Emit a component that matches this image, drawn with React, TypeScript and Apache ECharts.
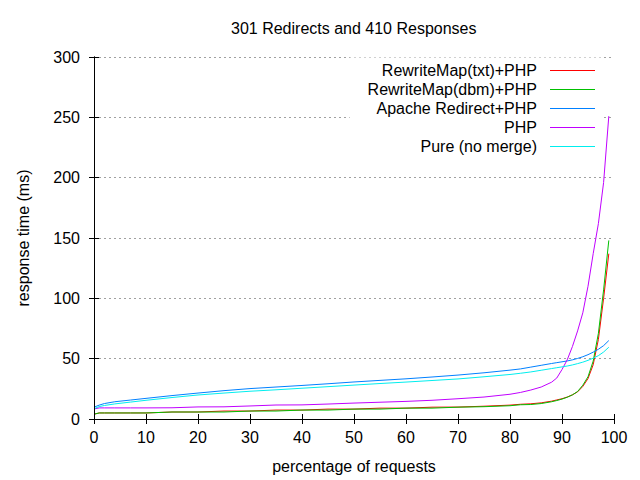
import React, { useEffect, useRef } from "react";
import * as echarts from "echarts";

const TITLE = "301 Redirects and 410 Responses";
const X_NAME = "percentage of requests";
const Y_NAME = "response time (ms)";

const X_TICKS_MIN = 0;
const X_TICKS_MAX = 100;
const X_TICK_STEP = 10;
const Y_TICKS_MIN = 0;
const Y_TICKS_MAX = 300;
const Y_TICK_STEP = 50;

const SERIES_NAMES = [
  "RewriteMap(txt)+PHP",
  "RewriteMap(dbm)+PHP",
  "Apache Redirect+PHP",
  "PHP",
  "Pure (no merge)",
];
const SERIES_COLORS = ["#ff0000", "#00c000", "#0080ff", "#c000ff", "#00eeee"];

const PERCENTILES = [
  0, 1, 2, 4, 7, 10, 15, 20, 25, 30, 35, 40, 45, 50, 55, 60, 65, 70, 75, 80,
  82, 84, 86, 88, 89, 90, 91, 92, 93, 94, 95, 96, 97, 98, 99,
];

const REWRITE_TXT = [
  4, 5, 5, 5, 5, 5, 5.8, 5.8, 6.6, 6.6, 7.4, 7.4, 8.2, 8.2, 9, 9, 9.8, 9.9,
  10.6, 11.5, 12.2, 12.6, 13.4, 14.8, 15.8, 16.8, 18.2, 20, 22.5, 27, 33.5,
  45, 66, 100, 137,
];
const REWRITE_DBM = [
  4, 5, 5, 5, 5, 5, 5.8, 5.8, 5.8, 6.6, 6.6, 7.4, 7.4, 8.2, 8.2, 9, 9, 9.8,
  10.2, 11, 11.8, 12, 12.8, 14.3, 15.3, 16.5, 18, 20, 22.8, 28, 35, 48, 71,
  107, 148,
];
const APACHE_REDIRECT = [
  9.8, 11.5, 12.8, 14.3, 15.7, 17.1, 19.4, 21.5, 23.5, 25.2, 26.5, 27.8, 29.2,
  30.7, 32, 33.3, 34.8, 36.4, 38.3, 40.5, 41.5, 43, 44.5, 46, 46.7, 47.4,
  48.1, 49, 50.2, 51.6, 53.3, 55.4, 57.8, 60.8, 65,
];
const PHP_ONLY = [
  8.3, 9.2, 9.2, 9.2, 9.2, 9.2, 9.3, 10, 10.1, 10.8, 11.6, 11.7, 12.4, 13.2,
  13.9, 14.6, 15.5, 16.8, 18.2, 20.5, 22, 24, 26.5, 30.5, 34, 41, 49, 60, 73,
  88, 110, 137, 162, 196, 251,
];
const PURE = [
  8.5, 10.3, 11.2, 12.5, 14, 15.5, 17.8, 19.9, 21.5, 23, 24.2, 25.5, 26.8,
  28.1, 29.4, 30.6, 31.9, 33.2, 35, 36.9, 37.9, 39, 40.4, 41.8, 42.5, 43.2,
  43.9, 44.8, 45.9, 47.1, 48.6, 50.4, 52.5, 55.5, 59.5,
];

const SERIES_VALUES = [REWRITE_TXT, REWRITE_DBM, APACHE_REDIRECT, PHP_ONLY, PURE];

const FONT = "'Liberation Sans', Arial, Helvetica, sans-serif";

function buildOption(): echarts.EChartsCoreOption {
  const tickStyle = { inside: true, length: 5, lineStyle: { color: "#000", width: 1 } };
  const lineStyle = { show: true, lineStyle: { color: "#000", width: 1 } };
  return {
    animation: false,
    backgroundColor: "#fff",
    textStyle: { fontFamily: FONT },
    title: {
      text: TITLE,
      left: 231,
      top: 20,
      padding: 0,
      textStyle: { fontFamily: FONT, fontSize: 16, fontWeight: "normal", color: "#000", lineHeight: 16 },
    },
    grid: { left: 94, right: 26, top: 57, bottom: 61, show: false },
    legend: {
      orient: "vertical",
      align: "right",
      right: 37,
      top: 57.5,
      padding: [5, 8, 5, 18],
      icon: "rect",
      itemWidth: 45,
      itemHeight: 1,
      itemGap: 3,
      backgroundColor: "#fff",
      selectedMode: false,
      z: 4,
      textStyle: { fontFamily: FONT, fontSize: 16, color: "#000", lineHeight: 16, padding: [0, 8, 0, 0] },
      data: SERIES_NAMES,
    },
    xAxis: [
      {
        type: "value",
        min: X_TICKS_MIN,
        max: X_TICKS_MAX,
        interval: X_TICK_STEP,
        position: "bottom",
        z: 5,
        name: X_NAME,
        nameLocation: "middle",
        nameGap: 39,
        nameTextStyle: { fontFamily: FONT, fontSize: 16, color: "#000", lineHeight: 16 },
        axisLine: lineStyle,
        axisTick: tickStyle,
        axisLabel: { margin: 10, fontFamily: FONT, fontSize: 16, color: "#000", lineHeight: 16 },
        splitLine: { show: false },
      },
      {
        type: "value",
        min: X_TICKS_MIN,
        max: X_TICKS_MAX,
        interval: X_TICK_STEP,
        position: "top",
        z: 5,
        axisLine: lineStyle,
        axisTick: tickStyle,
        axisLabel: { show: false },
        splitLine: { show: false },
      },
    ],
    yAxis: [
      {
        type: "value",
        min: Y_TICKS_MIN,
        max: Y_TICKS_MAX,
        interval: Y_TICK_STEP,
        position: "left",
        z: 0,
        name: Y_NAME,
        nameLocation: "middle",
        nameGap: 63,
        nameRotate: 90,
        nameTextStyle: { fontFamily: FONT, fontSize: 16, color: "#000", lineHeight: 16 },
        axisLine: lineStyle,
        axisTick: tickStyle,
        axisLabel: { margin: 14, fontFamily: FONT, fontSize: 16, color: "#000" },
        splitLine: { show: true, lineStyle: { color: "#a0a0a0", width: 1, type: [2, 3] } },
      },
      {
        type: "value",
        min: Y_TICKS_MIN,
        max: Y_TICKS_MAX,
        interval: Y_TICK_STEP,
        position: "right",
        z: 5,
        axisLine: lineStyle,
        axisTick: tickStyle,
        axisLabel: { show: false },
        splitLine: { show: false },
      },
    ],
    series: SERIES_NAMES.map((name, s) => ({
      type: "line",
      name,
      xAxisIndex: 0,
      yAxisIndex: 0,
      symbol: "none",
      showSymbol: false,
      z: 2,
      lineStyle: { width: 1, color: SERIES_COLORS[s] },
      itemStyle: { color: SERIES_COLORS[s] },
      data: PERCENTILES.map((p, i) => [p, SERIES_VALUES[s][i]]),
    })),
  };
}

export default function App() {
  const ref = useRef<HTMLDivElement>(null);
  useEffect(() => {
    if (!ref.current) return;
    const chart = echarts.init(ref.current, null, { renderer: "svg" });
    chart.setOption(buildOption());
    return () => chart.dispose();
  }, []);
  return (
    <div
      ref={ref}
      style={{ position: "absolute", left: 0, top: 0, width: 640, height: 480, background: "#fff" }}
    />
  );
}
